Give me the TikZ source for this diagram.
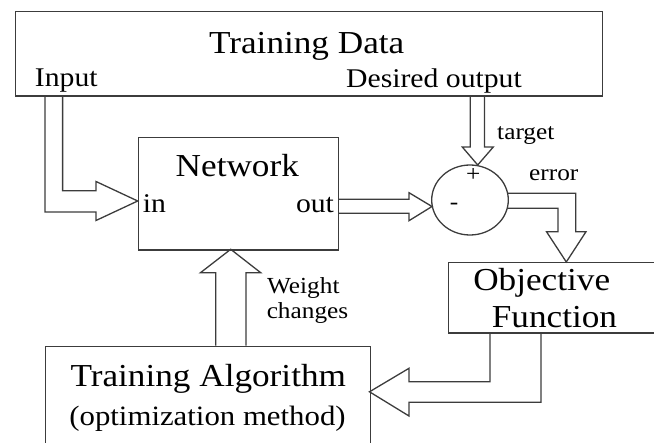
\documentclass[tikz,border=0pt]{standalone}
\usepackage{fontspec}
\setmainfont{Liberation Serif}[FakeStretch=1.1]
\usetikzlibrary{calc,shapes.geometric}
\definecolor{ln}{HTML}{3C3C3C}
\tikzset{
  box/.style={draw=ln,line width=1.3pt,rectangle,inner sep=0pt,anchor=north west},
  sumnode/.style={draw=ln,line width=1.3pt,ellipse,inner sep=0pt},
  blockarrow/.style={draw=ln,line width=1.3pt,line join=miter},
  big/.style={font=\fontsize{32}{38}\selectfont,inner sep=0pt,anchor=base},
  mid/.style={font=\fontsize{27}{32}\selectfont,inner sep=0pt,anchor=base},
  small/.style={font=\fontsize{23}{28}\selectfont,inner sep=0pt,anchor=base},
}
\begin{document}
\begin{tikzpicture}[x=1pt,y=-1pt]
\useasboundingbox (0,0) rectangle (654,443);
\clip (0,0) rectangle (654,443);
% boxes
\node[box,minimum width=587.4pt,minimum height=84.8pt] (tdata) at (14.6,10.7) {};
\node[box,minimum width=200.3pt,minimum height=112.6pt] (net) at (137.7,136.7) {};
\node[box,minimum width=260pt,minimum height=70.3pt] (obj) at (447.6,262) {};
\node[box,minimum width=324.5pt,minimum height=130pt] (alg) at (45,345.7) {};
\node[sumnode,minimum width=76.6pt,minimum height=70pt] (sum) at (470,200) {};
% texts
\node[big] (tdatalbl) at (306.7,53.3) {Training Data};
\node[mid] (inputlbl) at (66.3,86.7) {Input};
\node[mid] (desiredlbl) at (434,87.5) {Desired output};
\node[big] (netlbl) at (237.3,176.7) {Network};
\node[mid] (inlbl) at (154.5,213) {in};
\node[mid] (outlbl) at (315,213) {out};
\node[small] (targetlbl) at (525.8,139.3) {target};
\node[small] (errorlbl) at (553.8,181) {error};
\node[small] (pluslbl) at (473.3,182) {+};
\node[small] (minuslbl) at (454,210) {-};
\node[big] (objlbl) at (541.7,291) {Objective};
\node[big] (funclbl) at (554.5,327.7) {Function};
\node[small] (weightlbl) at (303.3,293.3) {Weight};
\node[small] (changeslbl) at (307.5,318.3) {changes};
\node[big] (alglbl) at (208.3,386.7) {Training Algorithm};
\node[font=\fontsize{28}{33}\selectfont,inner sep=0pt,anchor=base] (optlbl) at (207.5,425.5) {(optimization method)};
% block arrows
% input -> network in
\draw[blockarrow] (45,95.5) -- (45,212) -- (96,212) -- (96,220.5) -- (137.7,201) -- (96,181.5) -- (96,190.7) -- (62.6,190.7) -- (62.6,95.5);
% network out -> sum
\draw[blockarrow] (338,199.3) -- (409,199.3) -- (409,192.7) -- (432,206.5) -- (409,220.7) -- (409,213.3) -- (338,213.3);
% desired output -> sum (target)
\draw[blockarrow] (470.3,95.5) -- (470.3,147) -- (462.3,147) -- (477.7,165) -- (493.3,147) -- (484.5,147) -- (484.5,95.5);
% sum -> objective (error)
\draw[blockarrow] (507.6,193.3) -- (575.7,193.3) -- (575.7,231.7) -- (586,231.7) -- (566.3,262) -- (546.5,231.7) -- (558,231.7) -- (558,208.3) -- (507.2,208.3);
% algorithm -> network (weight changes)
\draw[blockarrow] (215.7,345.7) -- (215.7,272.7) -- (200.5,272.7) -- (230.7,249.3) -- (260.7,272.7) -- (246,272.7) -- (246,345.7);
% objective -> algorithm
\draw[blockarrow] (490,332.3) -- (490,381.7) -- (409,381.7) -- (409,368.3) -- (369.5,391.8) -- (409,416) -- (409,402.3) -- (541,402.3) -- (541,332.3);
\end{tikzpicture}
\end{document}
